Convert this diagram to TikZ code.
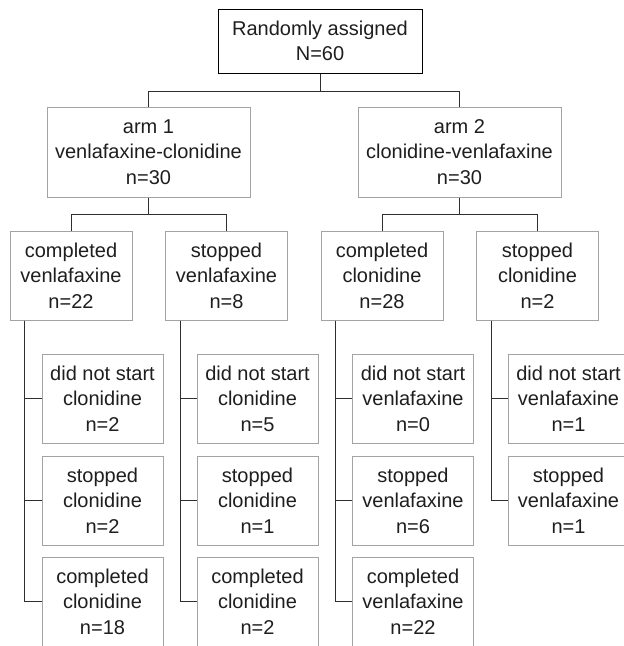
\documentclass[tikz,border=0pt]{standalone}
\usepackage{fontspec}
\setmainfont{Liberation Sans}
\usepackage{xcolor}

\definecolor{boxgray}{HTML}{A3A3A3}
\definecolor{linegray}{HTML}{2E2E2E}
\definecolor{textgray}{HTML}{1E1E1E}

\begin{document}
\begin{tikzpicture}[x=1pt, y=-1pt,
    box/.style={draw=boxgray, line width=1pt, inner sep=0pt, align=center,
      text=textgray, font=\fontsize{20}{25.5}\selectfont},
    topbox/.style={box, draw=black, minimum width=204, minimum height=64},
    armbox/.style={box, minimum width=203, minimum height=90},
    drugbox/.style={box, minimum width=122, minimum height=89},
    subbox/.style={box, minimum width=121, minimum height=89},
    link/.style={draw=linegray, line width=1pt}]

    \path [use as bounding box] (0,0) rectangle (624,646);
    \clip (0,0) rectangle (624,646);

    \node [topbox] (rand) at (320, 41) {Randomly assigned\\N=60};

    \node [armbox] (arm1) at (148.5, 152) {arm 1\\venlafaxine-clonidine\\n=30};
    \node [armbox] (arm2) at (459.5, 152) {arm 2\\clonidine-venlafaxine\\n=30};

    \node [drugbox] (cv) at (71, 275.5) {completed\\venlafaxine\\n=22};
    \node [drugbox] (sv) at (226.5, 275.5) {stopped\\venlafaxine\\n=8};
    \node [drugbox] (cc) at (382, 275.5) {completed\\clonidine\\n=28};
    \node [drugbox] (sc) at (537.5, 275.5) {stopped\\clonidine\\n=2};

    % second drug, arm 1
    \node [subbox] (cv1) at (102.5, 398.5) {did not start\\clonidine\\n=2};
    \node [subbox] (cv2) at (102.5, 500.5) {stopped\\clonidine\\n=2};
    \node [subbox] (cv3) at (102.5, 601.5) {completed\\clonidine\\n=18};

    \node [subbox] (sv1) at (257.5, 398.5) {did not start\\clonidine\\n=5};
    \node [subbox] (sv2) at (257.5, 500.5) {stopped\\clonidine\\n=1};
    \node [subbox] (sv3) at (257.5, 601.5) {completed\\clonidine\\n=2};

    % second drug, arm 2
    \node [subbox] (cc1) at (413, 398.5) {did not start\\venlafaxine\\n=0};
    \node [subbox] (cc2) at (413, 500.5) {stopped\\venlafaxine\\n=6};
    \node [subbox] (cc3) at (413, 601.5) {completed\\venlafaxine\\n=22};

    \node [subbox] (sc1) at (568.5, 398.5) {did not start\\venlafaxine\\n=1};
    \node [subbox] (sc2) at (568.5, 500.5) {stopped\\venlafaxine\\n=1};

    \draw [link] (rand.south) -- +(0,18) coordinate (j0);
    \draw [link] (arm1.north) |- (j0) -| (arm2.north);

    \draw [link] (arm1.south) -- +(0,17) coordinate (j1);
    \draw [link] (cv.north) |- (j1) -| (sv.north);
    \draw [link] (arm2.south) -- +(0,17) coordinate (j2);
    \draw [link] (cc.north) |- (j2) -| (sc.north);

    \foreach \p/\last in {cv/3, sv/3, cc/3, sc/2}
      \foreach \i in {1,...,\last}
        \draw [link] ([xshift=15pt]\p.south west) |- (\p\i.west);

  \end{tikzpicture}
\end{document}
